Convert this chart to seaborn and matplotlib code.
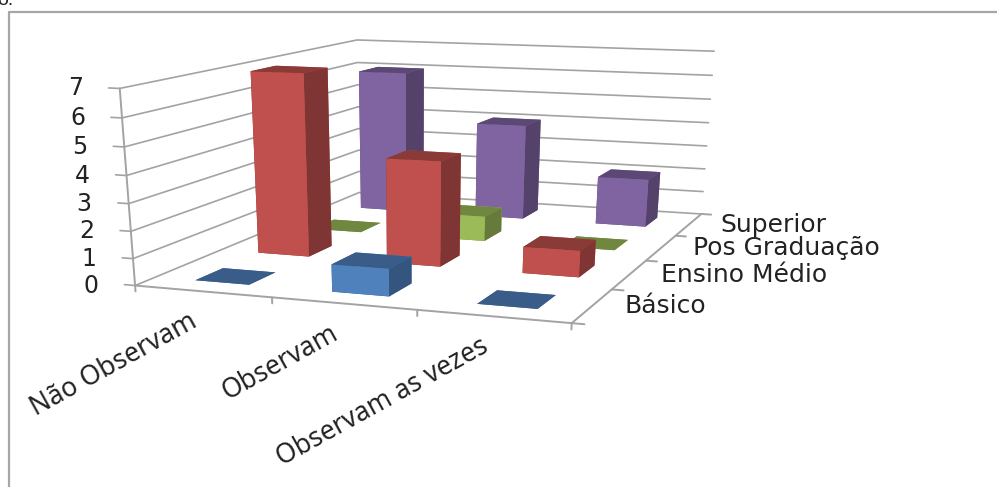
import numpy as np
import matplotlib
matplotlib.use("Agg")
import matplotlib.pyplot as plt
import seaborn as sns

categories = ["Não Observam", "Observam", "Observam as vezes"]
levels = ["Básico", "Ensino Médio", "Pos Graduação", "Superior"]
basico = [0, 1, 0]
ensino_medio = [7, 4, 1]
pos_graduacao = [0, 1, 0]
superior = [6, 4, 2]
value_ticks = [0, 1, 2, 3, 4, 5, 6, 7]
series_colors = ["#4F81BD", "#C0504D", "#9BBB59", "#8064A2"]

# Camera calibration: frame points (category, level, value) and their pixels.
frame_world = np.array([
    (0, 0, 0), (3, 0, 0), (3, 4, 0), (0, 4, 0), (0, 0, 7), (0, 4, 7), (3, 4, 7),
    (0, 0, 3), (0, 0, 1), (3, 4, 3), (1, 0, 0), (2, 0, 0),
    (3, 1, 0), (3, 2, 0), (3, 3, 0),
], float)
frame_pixels = np.array([
    (135, 286), (570, 323), (700, 214), (359, 192), (120, 88), (357, 40), (714, 51),
    (128, 204), (134, 258), (707, 147), (272, 298), (417, 311),
    (612, 288), (647, 260), (677, 236),
], float)
WIDTH, HEIGHT = 997, 487


def fit_camera(world, pixels):
    rows = []
    for (x, y, z), (u, v) in zip(world, pixels):
        rows.append([x, y, z, 1, 0, 0, 0, 0, -u * x, -u * y, -u * z, -u])
        rows.append([0, 0, 0, 0, x, y, z, 1, -v * x, -v * y, -v * z, -v])
    camera = np.linalg.svd(np.array(rows))[2][-1].reshape(3, 4)
    return camera / camera[2, 3]


sns.set_theme(style="white")
fig = plt.figure(figsize=(WIDTH / 100, HEIGHT / 100), dpi=100, facecolor="white")
ax = fig.add_axes([0, 0, 1, 1], projection="3d", computed_zorder=False)
ax.set_axis_off()
ax.apply_aspect = lambda position=None: None  # the axes keep the full figure
camera = fit_camera(frame_world, frame_pixels)


def fitted_proj():
    # Pixel coordinates (y down) into the 2D data space of the 3D axes.
    flip = np.array([[1, 0, 0], [0, -1, HEIGHT], [0, 0, 1]], float)
    to_data = ax.transData.inverted().get_matrix()
    h = to_data @ flip @ camera
    return np.array([h[0], h[1], [0, 0, 0, -1], h[2]])


ax.get_proj = fitted_proj


def label(x, y, z, text, dx=0, dy=0, **kwargs):
    # Place flat text next to a projected 3D point, offset in pixels.
    u, v, w = camera @ np.array([x, y, z, 1.0])
    fig.text((u / w + dx) / WIDTH, 1 - (v / w + dy) / HEIGHT, text,
             color="#222222", **kwargs)


palette = sns.color_palette(series_colors)
line = "#A3A3A3"
n_x, n_y = len(categories), len(levels)
z_top = max(value_ticks)

# Wall gridlines and value labels
for v in value_ticks:
    ax.plot3D([0, 0, n_x], [0, n_y, n_y], [v, v, v], color=line, lw=1.2, zorder=1)
    ax.plot3D([-0.08, 0], [0, 0], [v, v], color=line, lw=1.2, zorder=1)
    label(0, 0, v, str(v), dx=-37, ha="right", va="center", fontsize=17,
          family="DejaVu Sans")

# Axis lines and ticks
ax.plot3D([0, 0], [0, 0], [0, z_top], color=line, lw=1.4, zorder=1)
ax.plot3D([0, n_x], [0, 0], [0, 0], color=line, lw=1.4, zorder=1)
ax.plot3D([n_x, n_x], [0, n_y], [0, 0], color=line, lw=1.4, zorder=1)
for i in range(n_x + 1):
    ax.plot3D([i, i], [0, 0], [0, -0.22], color=line, lw=1.4, zorder=1)
for j in range(n_y + 1):
    ax.plot3D([n_x, n_x + 0.08], [j, j], [0, 0], color=line, lw=1.4, zorder=1)

# Bars, painted from the back row forwards and right to left
bar_w, bar_d = 0.40, 0.42
rows = [basico, ensino_medio, pos_graduacao, superior]
order = 2
for j in reversed(range(n_y)):
    base = np.array(palette[j])
    top = tuple(base * 0.72)
    side = tuple(base * 0.66)
    front = tuple(base)
    for i in reversed(range(n_x)):
        faces = [top, top, front, front, side, side]
        ax.bar3d(i + 0.5 - bar_w / 2, j + 0.5 - bar_d / 2, 0, bar_w, bar_d, rows[j][i],
                 color=faces, shade=False, edgecolor="none", zorder=order)
        order += 1

# Category labels under the front axis
for i, name in enumerate(categories):
    label(i + 0.5, 0, 0, name, dx=-7, dy=28, rotation=29, rotation_mode="anchor",
          ha="right", va="center", fontsize=19, family="Noto Sans")

# Level labels beside the depth axis
for j, name in enumerate(levels):
    label(n_x, j + 0.5, 0, name, dx=32, ha="left", va="center", fontsize=18,
          family="DejaVu Sans")

# Outer border of the chart area and clipped caption fragment
fig.add_artist(plt.Line2D([9 / WIDTH, 9 / WIDTH, 1], [0, 1 - 12 / HEIGHT, 1 - 12 / HEIGHT],
                          transform=fig.transFigure, color="#A6A6A6", lw=1.6))
fig.text(-3 / WIDTH, 1 - 5 / HEIGHT, "o.", fontsize=14, color="#222222",
         family="Liberation Sans", va="baseline", ha="left")

fig.savefig("out.png", dpi=100)
